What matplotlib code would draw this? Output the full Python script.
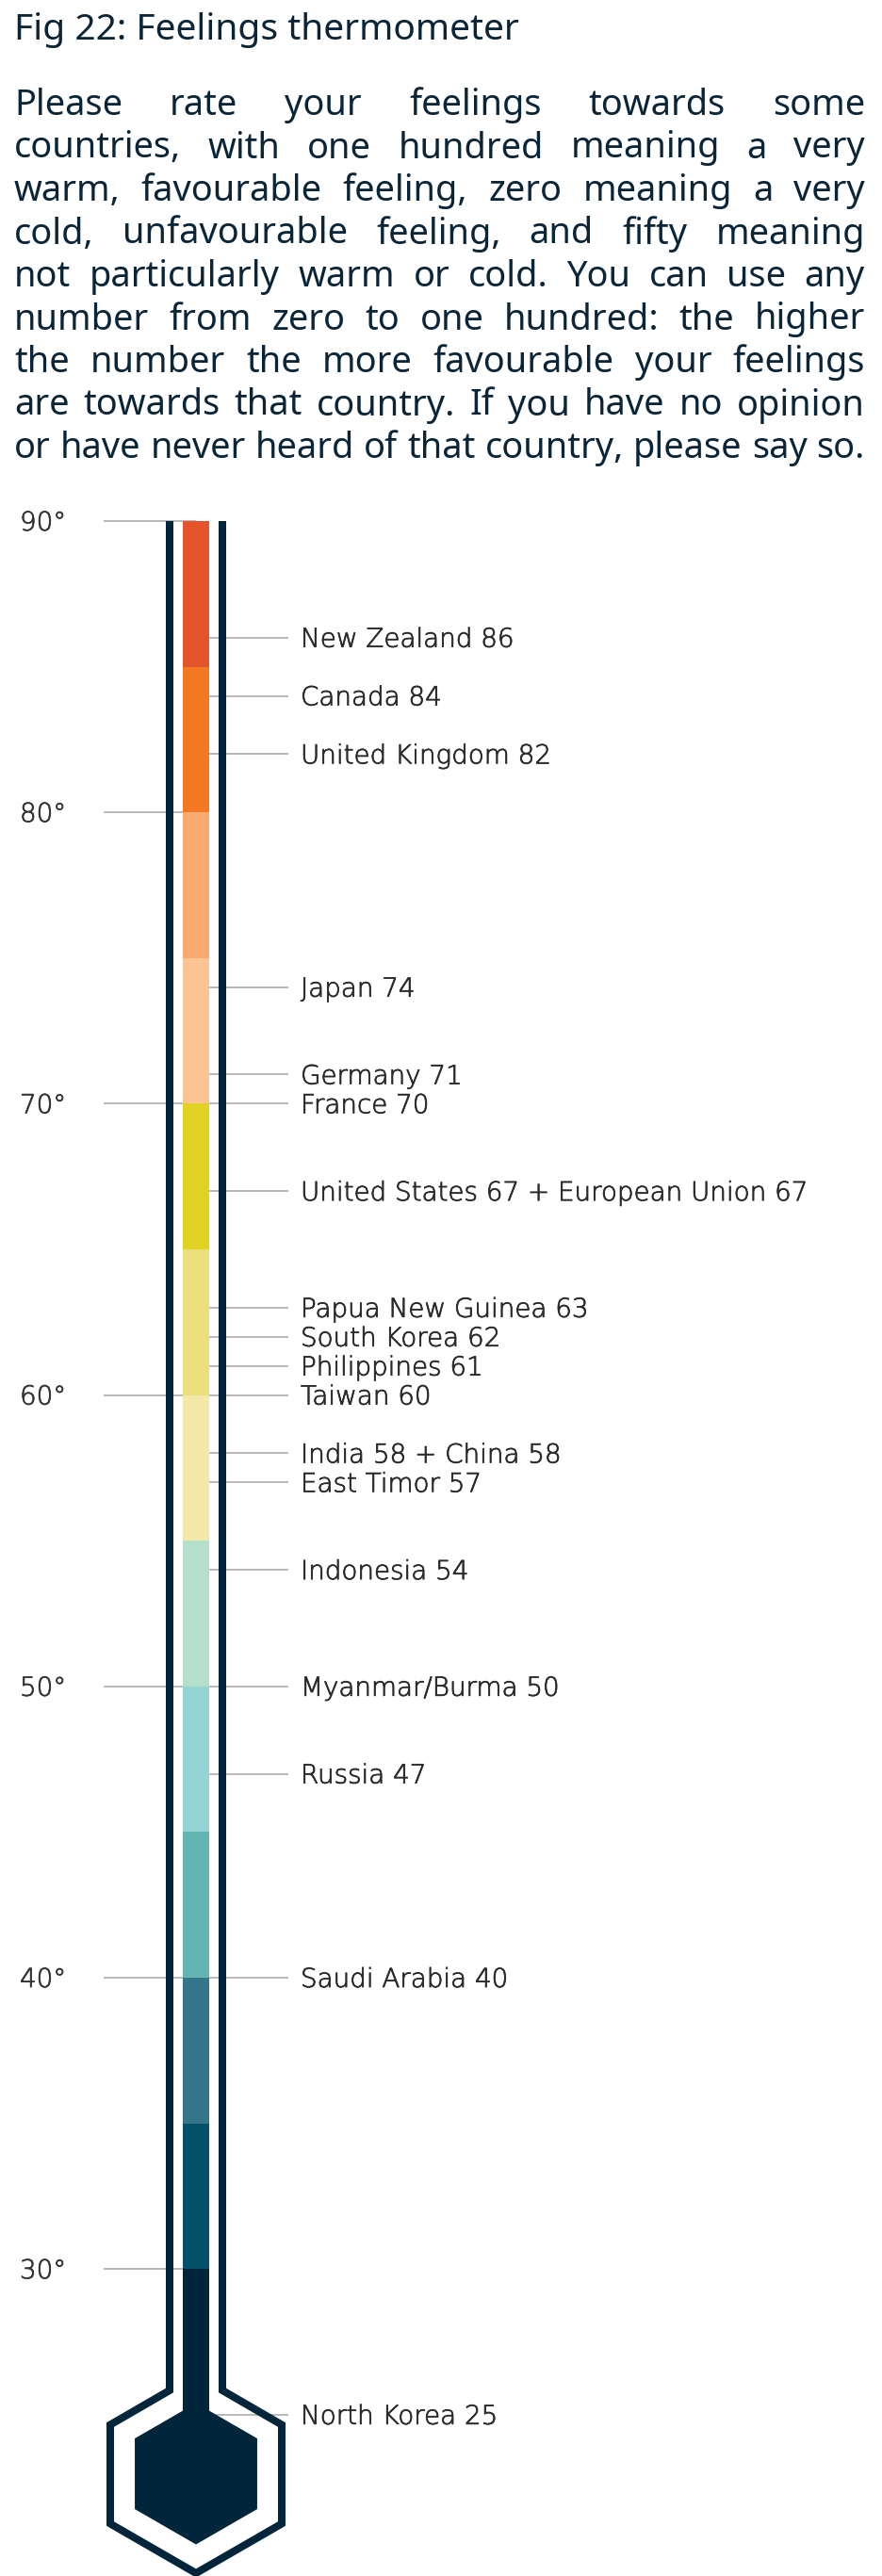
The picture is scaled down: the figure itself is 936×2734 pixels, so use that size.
import matplotlib
matplotlib.use("Agg")
import matplotlib.pyplot as plt
from matplotlib import font_manager as fm
from matplotlib import patheffects as pe
from matplotlib.patches import Polygon
from matplotlib.transforms import ScaledTranslation
import numpy as np

# ---------------- data ----------------
title = "Fig 22: Feelings thermometer"
question_lines = [
    "Please rate your feelings towards some",
    "countries, with one hundred meaning a very",
    "warm, favourable feeling, zero meaning a very",
    "cold, unfavourable feeling, and fifty meaning",
    "not particularly warm or cold. You can use any",
    "number from zero to one hundred: the higher",
    "the number the more favourable your feelings",
    "are towards that country. If you have no opinion",
    "or have never heard of that country, please say so.",
]
countries = ["New Zealand", "Canada", "United Kingdom", "Japan", "Germany", "France",
             "United States", "European Union", "Papua New Guinea", "South Korea",
             "Philippines", "Taiwan", "India", "China", "East Timor", "Indonesia",
             "Myanmar/Burma", "Russia", "Saudi Arabia", "North Korea"]
scores = [86, 84, 82, 74, 71, 70, 67, 67, 63, 62, 61, 60, 58, 58, 57, 54, 50, 47, 40, 25]
tick_values = [90, 80, 70, 60, 50, 40, 30]
band_lower = [85, 80, 75, 70, 65, 60, 55, 50, 45, 40, 35, 30]
band_colors = ["#E4542A", "#F37822", "#F9AA6E", "#FCC393", "#E1D123", "#EBDF7B",
               "#F2E9A9", "#B3DFCB", "#94D4D5", "#62B5B2", "#34758A", "#03506B"]
band_size = 5

# ---------------- fonts ----------------
def _wt(f):
    w = f.weight
    if isinstance(w, str):
        w = fm.weight_dict.get(w, 400)
    return int(w)

NORMAL = ("normal", "medium", 500)
SEMI = ("semi-condensed",)

def pick(prefs, fallback="DejaVu Sans"):
    ents = fm.fontManager.ttflist
    for name, wlo, whi, stretches in prefs:
        for f in ents:
            if (f.name == name and wlo <= _wt(f) <= whi and f.style == "normal"
                    and f.stretch in stretches):
                return fm.FontProperties(fname=f.fname), _wt(f)
    return fm.FontProperties(family=fallback), 400

text_fp, _ = pick([("Noto Sans", 400, 400, SEMI), ("Noto Sans SemiCondensed", 400, 400, NORMAL + SEMI),
                   ("Open Sans", 400, 400, SEMI), ("Noto Sans", 400, 400, NORMAL),
                   ("Open Sans", 400, 400, NORMAL)])
label_fp, label_wt = pick([("DejaVu Sans", 200, 300, NORMAL), ("Noto Sans", 300, 300, NORMAL),
                           ("Open Sans", 300, 300, NORMAL), ("Lato", 300, 300, NORMAL),
                           ("Roboto", 300, 300, NORMAL), ("Noto Sans", 400, 400, NORMAL)])

def fp(base, size):
    p = base.copy()
    p.set_size(size)
    return p

NAVY = "#0B2538"
DARK = "#01263B"
GREY = "#A7A9AC"
LABEL_C = "#2A2A2A"
TICK_C = "#333333"

# ---------------- layout ----------------
W, H = 937, 2734
DPI = 100
Y90, PX = 553.0, 30.92           # pixel row of 90 degrees, pixels per degree
def val(y_px):
    return 90 - (np.asarray(y_px, dtype=float) - Y90) / PX

CX = 208.0
FILL_W = 28.5
WALL_LW = 8 * 72 / DPI

fig = plt.figure(figsize=(W / DPI, H / DPI), dpi=DPI)
fig.patch.set_facecolor("white")
bg = fig.add_axes([0, 0, 1, 1])
bg.set_xlim(0, W); bg.set_ylim(H, 0); bg.axis("off")
bg.patch.set_visible(False)
ax = fig.add_axes([0, 0, 1, 1])
ax.set_xlim(0, W); ax.set_ylim(float(val(H)), float(val(0))); ax.axis("off")
ax.patch.set_visible(False)

renderer = fig.canvas.get_renderer()
def width_of(s, p):
    t = bg.text(0, 0, s, fontproperties=p)
    w = t.get_window_extent(renderer).width
    t.remove()
    return w

# ---------------- title & question ----------------
tsize = 27.0
tw = width_of(title, fp(text_fp, tsize))
tsize = float(np.clip(tsize * 537.0 / tw, 22, 30))
bg.text(15, 42, title, fontproperties=fp(text_fp, tsize), color=NAVY, va="baseline", ha="left")

L, R = 15.0, 918.0
psize = 28.0
def natural(size):
    p = fp(text_fp, size)
    sp = width_of("n n", p) - width_of("nn", p)
    mx = 0
    for line in question_lines:
        ws = [width_of(w, p) for w in line.split()]
        mx = max(mx, sum(ws) + sp * (len(ws) - 1))
    return mx
nw = natural(psize)
if nw > (R - L):
    psize = psize * (R - L) / nw * 0.995
pp = fp(text_fp, psize)
for i, line in enumerate(question_lines):
    y = 122 + i * 45.5
    words = line.split()
    ts = [bg.text(0, y, w, fontproperties=pp, color=NAVY, va="baseline", ha="left") for w in words]
    ws = [t.get_window_extent(renderer).width for t in ts]
    gap = (R - L - sum(ws)) / (len(ws) - 1)
    x = L
    for t, w in zip(ts, ws):
        t.set_x(x)
        x += w + gap

# ---------------- thermometer ----------------
label_vals, label_txt = [], []
for c, s in zip(countries, scores):
    if label_vals and label_vals[-1] == s:
        label_txt[-1] += f" + {c} {s}"
    else:
        label_vals.append(s); label_txt.append(f"{c} {s}")

lw_line = 1.6 * 72 / DPI
ax.hlines(tick_values, 110, CX, color=GREY, lw=lw_line, zorder=1)
ax.hlines(label_vals, CX, 306, color=GREY, lw=lw_line, zorder=1)

ax.bar([CX] * len(band_lower), [band_size] * len(band_lower), bottom=band_lower,
       width=FILL_W, color=band_colors, linewidth=0, zorder=2)
stem_bottom = float(val(2575))
ax.bar([CX], [min(band_lower) - stem_bottom], bottom=[stem_bottom], width=FILL_W,
       color=DARK, linewidth=0, zorder=2)

hc_y, hr = 2625.5, 75.0
ang = np.deg2rad([90, 150, 210, 270, 330, 30])
hx = CX + hr * np.cos(ang)
hy = val(hc_y - hr * np.sin(ang))
ax.add_patch(Polygon(np.column_stack([hx, hy]), closed=True, facecolor=DARK,
                     edgecolor="none", zorder=2))

ox = [180, 180, 117, 117, CX, 299, 299, 236, 236]
oy = [553, 2537, 2573.5, 2678.5, 2731, 2678.5, 2573.5, 2537, 553]
ax.plot(ox, val(oy), color=DARK, lw=WALL_LW, solid_joinstyle="miter",
        solid_capstyle="butt", zorder=3)

# labels: size so the longest label spans ~539 px as in the reference
longest = max(label_txt, key=len)
lsize = 20.0
lw_meas = width_of(longest, fp(label_fp, lsize))
lsize = float(np.clip(lsize * 539.0 / lw_meas, 18, 23))
cap_px = 0.72 * lsize * DPI / 72
off = ScaledTranslation(0, -cap_px / 2 / DPI, fig.dpi_scale_trans)
thick = 0.55 if label_wt <= 250 else 0.25
for v, t in zip(label_vals, label_txt):
    ax.text(319, v, t, fontproperties=fp(label_fp, lsize), color=LABEL_C,
            va="baseline", ha="left", transform=ax.transData + off, zorder=5,
            path_effects=[pe.withStroke(linewidth=thick, foreground=LABEL_C)])
for v in tick_values:
    ax.text(21, v, f"{v}°", fontproperties=fp(label_fp, lsize), color=TICK_C,
            va="baseline", ha="left", transform=ax.transData + off, zorder=5,
            path_effects=[pe.withStroke(linewidth=thick, foreground=TICK_C)])

fig.savefig("out.png", dpi=DPI, facecolor="white")
